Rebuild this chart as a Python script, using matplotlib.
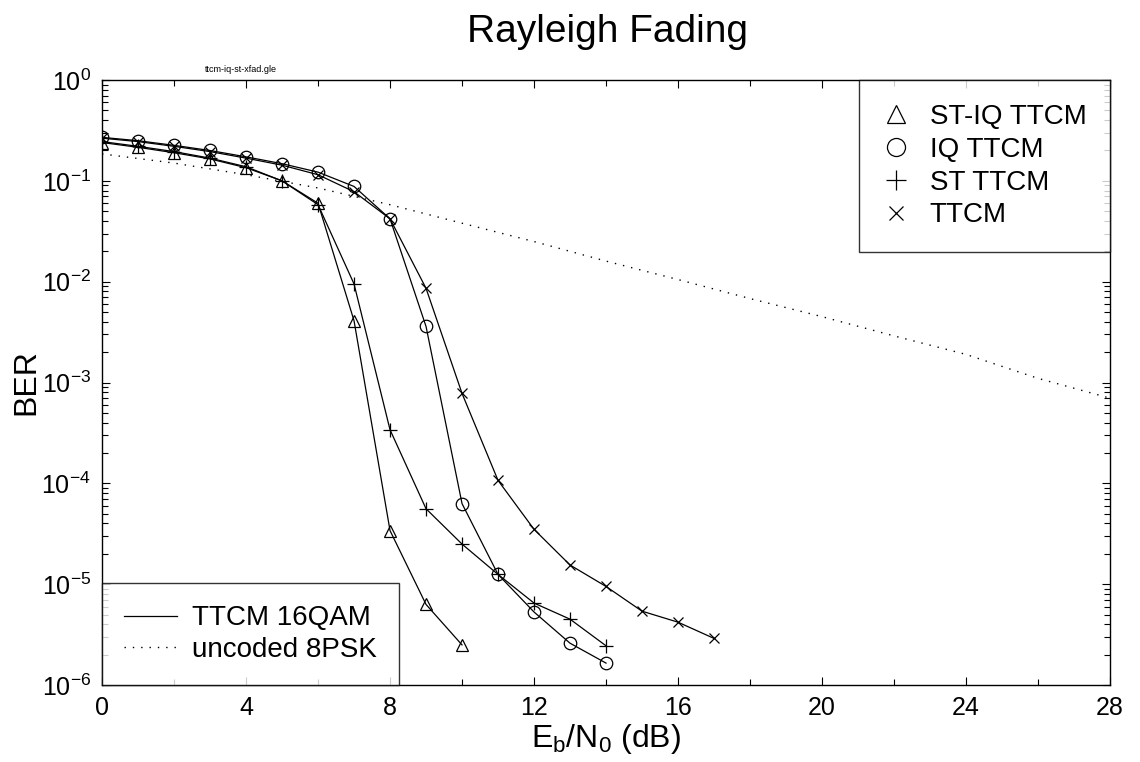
import matplotlib
matplotlib.use("Agg")
import matplotlib.pyplot as plt
from matplotlib.lines import Line2D
from matplotlib.ticker import FixedLocator, NullFormatter

plt.rcParams['font.family'] = ['Liberation Sans', 'DejaVu Sans']
plt.rcParams['mathtext.fontset'] = 'custom'
plt.rcParams['mathtext.rm'] = 'Liberation Sans'
plt.rcParams['mathtext.it'] = 'Liberation Sans'

# ---- data ----
x_stiq = [0, 1, 2, 3, 4, 5, 6, 7, 8, 9, 10]
ber_stiq = [0.24, 0.215, 0.19, 0.165, 0.135, 0.10, 0.06, 0.0041, 3.4e-5, 6.3e-6, 2.5e-6]

x_iq = list(range(0, 15))
ber_iq = [0.27, 0.25, 0.225, 0.2, 0.173, 0.148, 0.122, 0.088, 0.042, 0.0036,
          6.3e-5, 1.25e-5, 5.3e-6, 2.6e-6, 1.65e-6]

x_st = list(range(0, 15))
ber_st = [0.245, 0.22, 0.195, 0.168, 0.138, 0.10, 0.058, 0.0095, 3.4e-4, 5.6e-5,
          2.5e-5, 1.25e-5, 6.5e-6, 4.5e-6, 2.45e-6]

x_ttcm = list(range(0, 18))
ber_ttcm = [0.265, 0.245, 0.22, 0.195, 0.168, 0.143, 0.115, 0.078, 0.042, 0.0086,
            7.8e-4, 1.07e-4, 3.5e-5, 1.55e-5, 9.5e-6, 5.4e-6, 4.2e-6, 2.9e-6]

x_unc = [0, 2, 4, 6, 8, 10, 12, 14, 16, 18, 20, 22, 24, 26, 28]
ber_unc = [0.185, 0.15, 0.115, 0.085, 0.058, 0.038, 0.025, 0.016, 0.0105,
           0.0068, 0.0045, 0.0029, 0.0019, 0.0011, 0.0007]

x_ticks = [0, 4, 8, 12, 16, 20, 24, 28]
y_exps = [0, -1, -2, -3, -4, -5, -6]
title = "Rayleigh Fading"
series_labels = ["ST-IQ TTCM", "IQ TTCM", "ST TTCM", "TTCM"]
style_labels = ["TTCM 16QAM", "uncoded 8PSK"]

# ---- figure ----
fig = plt.figure(figsize=(11.4, 7.62), dpi=100)
ax = fig.add_axes([0.0895, 0.101, 0.8842, 0.794])

lw = 0.9
ax.plot(x_unc, ber_unc, color='black', lw=1.0, linestyle=(0, (1, 5)))
ax.plot(x_stiq, ber_stiq, color='black', lw=lw, marker='^', ms=9,
        mfc='none', mec='black', mew=0.9)
ax.plot(x_iq, ber_iq, color='black', lw=lw, marker='o', ms=9,
        mfc='none', mec='black', mew=0.9)
ax.plot(x_st, ber_st, color='black', lw=lw, marker='+', ms=10,
        mec='black', mew=0.9)
ax.plot(x_ttcm, ber_ttcm, color='black', lw=lw, marker='x', ms=7,
        mec='black', mew=0.9)

ax.set_yscale('log')
ax.set_xlim(0, 28)
ax.set_ylim(1e-6, 1)
ax.xaxis.set_major_locator(FixedLocator(x_ticks))
ax.xaxis.set_minor_locator(FixedLocator(list(range(0, 29, 2))))
ax.xaxis.set_minor_formatter(NullFormatter())
ax.set_xticklabels([str(v) for v in x_ticks])

y_major = [10.0 ** e for e in y_exps]
y_minor = [m * 10.0 ** e for e in y_exps[1:] for m in range(2, 10)]
ax.yaxis.set_major_locator(FixedLocator(y_major))
ax.yaxis.set_minor_locator(FixedLocator(y_minor))
ax.yaxis.set_minor_formatter(NullFormatter())
ax.set_yticklabels([r"10$^{\mathregular{%d}}$" % e for e in y_exps])

ax.tick_params(which='both', direction='in', top=True, right=True, width=0.8)
ax.tick_params(which='major', length=6, labelsize=18, pad=8)
ax.tick_params(which='minor', length=4)
for s in ax.spines.values():
    s.set_linewidth(1.0)

ax.set_xlabel(r"E$_\mathregular{b}$/N$_\mathregular{0}$ (dB)", fontsize=23, labelpad=1)
ax.set_ylabel("BER", fontsize=23, labelpad=0)
fig.text(0.533, 0.958, title, ha='center', va='center', fontsize=28)
fig.text(0.211, 0.909, "ttcm-iq-st-xfad.gle", ha='center', va='center', fontsize=6.5)

# legend 1 (markers)
h1 = [Line2D([], [], ls='none', marker='^', ms=13, mfc='none', mec='black', mew=0.9),
      Line2D([], [], ls='none', marker='o', ms=13, mfc='none', mec='black', mew=0.9),
      Line2D([], [], ls='none', marker='+', ms=15, mec='black', mew=0.9),
      Line2D([], [], ls='none', marker='x', ms=10, mec='black', mew=0.9)]
leg1 = ax.legend(h1, series_labels, loc='upper right', bbox_to_anchor=(1, 1),
                 borderaxespad=0, fancybox=False, frameon=True, fontsize=20,
                 handlelength=1.0, handletextpad=0.7, labelspacing=0.25,
                 borderpad=0.85, edgecolor='black')
leg1.get_frame().set_linewidth(1.0)
ax.add_artist(leg1)

h2 = [Line2D([], [], color='black', lw=0.9),
      Line2D([], [], color='black', lw=1.0, linestyle=(0, (1, 5)))]
leg2 = ax.legend(h2, style_labels, loc='lower left', bbox_to_anchor=(0, 0),
                 borderaxespad=0, fancybox=False, frameon=True, fontsize=20,
                 handlelength=1.9, handletextpad=0.55, labelspacing=0.2,
                 borderpad=0.8, edgecolor='black')
leg2.get_frame().set_linewidth(1.0)

fig.savefig("out.png", dpi=100)
